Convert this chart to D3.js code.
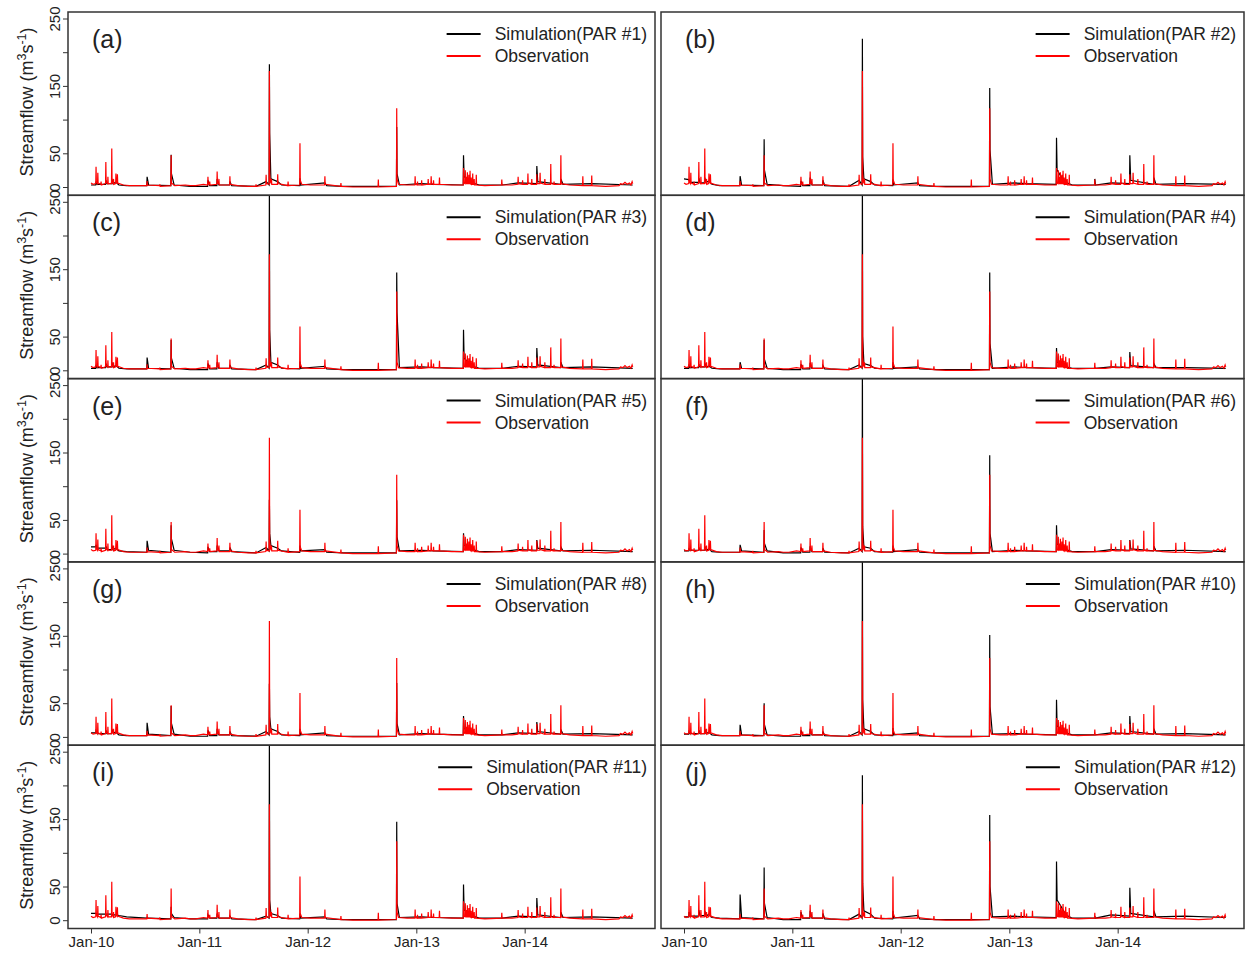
<!DOCTYPE html>
<html>
<head>
<meta charset="utf-8">
<script src="https://cdn.jsdelivr.net/npm/d3@7"></script>
<style>
body { margin: 0; background: #fff; }
text { font-family: Arial, "Liberation Sans", sans-serif; fill: #222; }
</style>
</head>
<body>
<div id="chart"></div>
<script>
const width = 1249;
const height = 953;

const observed = [
    ["2010-01-01",6],["2010-01-08",4],["2010-01-17",5],["2010-01-18",30],["2010-01-19",8],["2010-01-23",5],["2010-01-24",21],
    ["2010-01-25",6],["2010-02-03",4],["2010-02-04",8],["2010-02-05",3],["2010-02-19",5],["2010-02-20",37],["2010-02-21",8],
    ["2010-02-26",5],["2010-02-27",15],["2010-02-28",5],["2010-03-11",5],["2010-03-12",57],["2010-03-13",8],["2010-03-17",5],
    ["2010-03-18",12],["2010-03-19",4],["2010-03-25",5],["2010-03-26",20],["2010-03-27",8],["2010-03-30",6],["2010-03-31",19],
    ["2010-04-01",6],["2010-04-20",3],["2010-05-10",2],["2010-06-10",2],["2010-07-08",2],["2010-07-09",9],["2010-07-10",3],
    ["2010-08-20",2],["2010-08-21",4],["2010-08-22",1],["2010-09-27",2],["2010-09-28",47],["2010-09-29",6],["2010-10-10",2],
    ["2010-11-15",3],["2010-12-01",2],["2010-12-20",2],
    ["2011-01-15",4],["2011-01-29",3],["2011-01-30",15],["2011-01-31",5],["2011-02-04",4],["2011-02-05",8],["2011-02-06",3],
    ["2011-03-01",4],["2011-03-02",23],["2011-03-03",6],["2011-03-07",5],["2011-03-08",12],["2011-03-09",3],["2011-04-13",3],
    ["2011-04-14",16],["2011-04-15",4],["2011-05-10",2],["2011-06-15",1],["2011-07-10",1],["2011-07-11",4],["2011-07-12",1],
    ["2011-08-13",3],["2011-08-14",18],["2011-08-15",5],["2011-08-24",4],["2011-08-25",172],["2011-08-26",20],["2011-08-28",8],
    ["2011-08-31",5],["2011-09-01",12],["2011-09-02",4],["2011-09-21",4],["2011-09-22",19],["2011-09-23",5],["2011-10-26",2],
    ["2011-10-27",8],["2011-10-28",2],["2011-12-05",3],["2011-12-06",65],["2011-12-07",10],["2011-12-12",4],
    ["2012-01-10",3],["2012-02-27",3],["2012-02-28",16],["2012-02-29",4],["2012-04-21",1],["2012-04-22",6],["2012-04-23",1],
    ["2012-06-01",0],["2012-08-25",0],["2012-08-26",11],["2012-08-27",0],["2012-10-26",1],["2012-10-27",117],["2012-10-28",12],
    ["2012-11-02",4],["2012-12-01",3],["2012-12-27",3],["2012-12-28",16],["2012-12-29",4],
    ["2013-01-04",3],["2013-01-05",8],["2013-01-06",3],["2013-01-18",3],["2013-01-19",10],["2013-01-20",3],["2013-02-09",4],
    ["2013-02-10",12],["2013-02-11",4],["2013-02-19",4],["2013-02-20",16],["2013-02-21",5],["2013-02-27",4],["2013-02-28",10],
    ["2013-03-01",4],["2013-03-19",4],["2013-03-20",14],["2013-03-21",4],["2013-05-01",3],["2013-06-08",3],["2013-06-09",28],
    ["2013-06-10",6],["2013-06-14",5],["2013-06-15",25],["2013-06-16",6],["2013-06-17",5],["2013-06-18",15],["2013-06-19",5],
    ["2013-06-21",5],["2013-06-22",22],["2013-06-23",5],["2013-06-26",5],["2013-06-27",18],["2013-06-28",5],["2013-06-30",5],
    ["2013-07-01",24],["2013-07-02",5],["2013-07-04",4],["2013-07-05",14],["2013-07-06",4],["2013-07-09",4],["2013-07-10",20],
    ["2013-07-11",4],["2013-07-14",4],["2013-07-15",12],["2013-07-16",3],["2013-07-21",3],["2013-07-22",18],["2013-07-23",3],
    ["2013-08-20",2],["2013-10-15",3],["2013-10-16",11],["2013-10-17",3],["2013-11-20",3],["2013-12-09",4],["2013-12-10",15],
    ["2013-12-11",5],["2013-12-24",4],["2013-12-25",10],["2013-12-26",4],
    ["2014-01-11",4],["2014-01-12",20],["2014-01-13",6],["2014-01-24",4],["2014-01-25",12],["2014-01-26",4],["2014-02-10",4],
    ["2014-02-11",19],["2014-02-12",5],["2014-02-21",5],["2014-02-22",21],["2014-02-23",6],["2014-03-09",4],["2014-03-10",12],
    ["2014-03-11",4],["2014-03-29",4],["2014-03-30",34],["2014-03-31",5],["2014-04-09",4],["2014-04-10",8],["2014-04-11",4],
    ["2014-05-02",4],["2014-05-03",47],["2014-05-04",5],["2014-06-01",3],["2014-07-15",2],["2014-07-16",16],["2014-07-17",2],
    ["2014-08-14",2],["2014-08-15",17],["2014-08-16",2],["2014-10-01",1],["2014-11-15",2],["2014-11-20",5],["2014-11-28",4],
    ["2014-12-05",7],["2014-12-12",4],["2014-12-20",6],["2014-12-25",3],["2014-12-29",8],["2014-12-31",5]
];

// dates at which the simulated (black) lines were read
const simDates = [
    "2010-01-01","2010-01-17","2010-01-18","2010-01-22","2010-02-19","2010-02-20","2010-02-24","2010-03-11","2010-03-12","2010-03-16",
    "2010-03-26","2010-04-05","2010-05-01","2010-07-08","2010-07-09","2010-07-14","2010-09-27","2010-09-28","2010-09-29","2010-10-08",
    "2010-12-01","2011-01-29","2011-01-30","2011-02-05","2011-03-01","2011-03-02","2011-03-08","2011-04-13","2011-04-14","2011-04-20",
    "2011-07-11","2011-08-14","2011-08-24","2011-08-25","2011-08-26","2011-08-30","2011-09-22","2011-10-05","2011-12-05","2011-12-06",
    "2011-12-08","2012-02-28","2012-03-05","2012-05-01","2012-10-26","2012-10-27","2012-10-28","2012-11-05","2013-01-19","2013-03-01",
    "2013-06-08","2013-06-09","2013-06-11","2013-06-25","2013-07-10","2013-08-01","2013-10-15","2013-10-16","2013-10-18","2013-12-10",
    "2014-02-10","2014-02-11","2014-02-14","2014-05-02","2014-05-03","2014-05-10","2014-08-15","2014-12-31"
];

const simPar1  = [3,3,8,4,4,10,5,5,12,5, 7,3,2,2,15,3,2,48,20,3, 1,1,10,2,2,12,3,3,8,2, 1,8,3,182,80,12,8,3,2,13, 3,6,2,1,1,89,20,3,5,4, 3,47,15,12,6,3,3,4,3,6, 5,31,8,4,12,4,5,3];
const simPar2  = [12,11,10,7,7,13,6,6,14,7, 9,4,2,2,16,3,2,71,25,4, 2,1,9,2,2,14,3,3,10,2, 1,10,3,220,45,12,8,3,2,11, 3,6,2,1,1,147,55,4,6,5, 4,73,25,15,7,3,3,12,3,6, 5,47,10,4,14,4,5,4];
const simPar3  = [3,3,8,4,4,10,5,5,12,5, 7,3,2,2,19,3,2,45,18,3, 1,1,10,2,2,12,3,3,8,2, 1,8,3,290,60,12,8,3,2,13, 3,6,2,1,1,145,86,4,5,4, 3,60,18,12,6,3,3,4,3,6, 5,33,8,4,12,4,5,3];
const simPar4  = [3,3,7,4,4,9,5,5,11,5, 6,3,2,2,12,3,2,45,16,3, 1,1,9,2,2,11,3,3,7,2, 1,8,3,290,50,10,7,3,2,12, 3,5,2,1,1,145,40,3,5,4, 3,33,12,10,5,3,3,4,3,5, 4,27,7,4,10,4,4,3];
const simPar5  = [10,10,13,8,8,11,6,6,12,6, 8,4,3,2,19,5,2,42,22,5, 2,1,10,3,3,12,4,4,9,3, 1,9,4,80,30,12,8,4,2,12, 4,6,2,1,1,79,25,4,5,4, 3,30,12,11,6,3,3,4,3,6, 5,20,8,4,10,4,5,3];
const simPar6  = [4,4,7,5,5,9,5,5,11,5, 7,3,2,2,13,4,2,35,15,4, 1,1,9,2,2,11,3,3,8,2, 1,8,3,290,40,10,8,3,2,12, 3,6,2,1,1,146,30,3,5,4, 3,42,14,11,6,3,3,4,3,6, 5,20,7,4,11,4,5,3];
const simPar8  = [6,6,9,5,5,10,5,5,12,6, 7,3,2,2,21,4,2,46,20,4, 1,1,10,2,2,12,3,3,8,2, 1,8,3,79,30,12,8,3,2,12, 3,6,2,1,1,80,20,3,5,4, 3,31,12,11,6,3,3,4,3,6, 5,22,8,4,11,4,5,3];
const simPar10 = [4,4,8,5,5,10,5,5,12,5, 7,3,2,2,18,3,2,50,18,3, 1,1,10,2,2,12,3,3,8,2, 1,8,3,290,55,12,8,3,2,13, 3,6,2,1,1,151,45,4,5,4, 3,55,16,12,6,3,3,4,3,6, 5,31,8,4,12,4,5,3];
const simPar11 = [10,10,10,9,9,9,9,9,9,8, 8,7,5,3,4,3,2,20,10,4, 2,2,8,3,3,10,3,3,6,2, 1,6,3,290,30,10,7,3,2,10, 3,5,2,1,1,146,25,4,5,4, 3,53,15,12,6,3,3,4,3,6, 5,33,8,4,12,4,5,3];
const simPar12 = [5,5,12,6,6,15,7,7,14,6, 9,4,3,2,38,4,2,78,25,4, 1,1,12,3,3,14,3,3,10,2, 1,9,3,215,55,14,9,3,2,14, 3,7,2,1,1,156,50,5,6,5, 4,87,30,20,8,3,3,6,3,8, 6,48,10,5,14,5,6,4];

const panelLabels = ["(a)","(b)","(c)","(d)","(e)","(f)","(g)","(h)","(i)","(j)"];
const parNames = ["#1","#2","#3","#4","#5","#6","#8","#10","#11","#12"];
const simSeries = [simPar1, simPar2, simPar3, simPar4, simPar5, simPar6, simPar8, simPar10, simPar11, simPar12];

const yTicks = [0, 50, 100, 150, 200, 250];
const yLabelled = [0, 50, 150, 250];
const xTickYears = ["2010-01-01","2011-01-01","2012-01-01","2013-01-01","2014-01-01"];

const parse = d3.timeParse("%Y-%m-%d");
const obsData = observed.map(d => ({date: parse(d[0]), v: d[1]}));

// layout
const colLeft = [68, 661];
const colRight = [655, 1244];
const top0 = 12;
const rowH = 183.3;

const svg = d3.select("#chart")
    .append("svg")
    .attr("width", width)
    .attr("height", height);

svg.append("rect").attr("width", width).attr("height", height).attr("fill", "#fff");

simSeries.forEach((series, i) => {
    const col = i % 2;
    const row = Math.floor(i / 2);
    const x0 = colLeft[col], x1 = colRight[col];
    const top = top0 + row * rowH;
    const bottom = top + rowH;

    const x = d3.scaleTime()
        .domain([parse("2010-01-01"), parse("2015-01-01")])
        .range([x0 + 23, x0 + 565]);
    const y = d3.scaleLinear()
        .domain([0, 250])
        .range([top + 175, top + 6.5]);

    const g = svg.append("g").attr("class", "panel");

    const clipId = "clip" + i;
    g.append("clipPath").attr("id", clipId)
        .append("rect")
        .attr("x", x0).attr("y", top)
        .attr("width", x1 - x0).attr("height", rowH);

    const line = d3.line()
        .x(d => x(d.date))
        .y(d => y(d.v));

    const simData = simDates.map((dt, k) => ({date: parse(dt), v: series[k]}));

    const plot = g.append("g").attr("clip-path", `url(#${clipId})`);
    plot.append("path")
        .datum(simData)
        .attr("d", line)
        .attr("fill", "none")
        .attr("stroke", "#000")
        .attr("stroke-width", 1.2);
    plot.append("path")
        .datum(obsData)
        .attr("d", line)
        .attr("fill", "none")
        .attr("stroke", "#ff0000")
        .attr("stroke-width", 1.2);

    // frame
    g.append("rect")
        .attr("x", x0).attr("y", top)
        .attr("width", x1 - x0).attr("height", rowH)
        .attr("fill", "none")
        .attr("stroke", "#333")
        .attr("stroke-width", 1.5);

    // panel tag
    g.append("text")
        .attr("x", x0 + 24)
        .attr("y", top + 36)
        .attr("font-size", 25)
        .text(panelLabels[i]);

    // legend, right aligned
    const simText = g.append("text")
        .attr("y", top + 28)
        .attr("font-size", 17.5)
        .text("Simulation(PAR " + parNames[i] + ")");
    const tw = simText.node().getComputedTextLength();
    const tx = x1 - 8 - tw;
    simText.attr("x", tx);
    g.append("text")
        .attr("x", tx)
        .attr("y", top + 50)
        .attr("font-size", 17.5)
        .text("Observation");
    g.append("line")
        .attr("x1", tx - 48).attr("x2", tx - 14)
        .attr("y1", top + 22).attr("y2", top + 22)
        .attr("stroke", "#000").attr("stroke-width", 2);
    g.append("line")
        .attr("x1", tx - 48).attr("x2", tx - 14)
        .attr("y1", top + 44).attr("y2", top + 44)
        .attr("stroke", "#ff0000").attr("stroke-width", 2);

    if (col === 0) {
        const yAxis = g.append("g")
            .attr("transform", `translate(${x0},0)`)
            .call(d3.axisLeft(y)
                .tickValues(yTicks)
                .tickSize(5)
                .tickFormat(d => yLabelled.includes(d) ? d : ""));
        yAxis.select(".domain").remove();
        yAxis.selectAll(".tick line").attr("stroke", "#333");
        yAxis.selectAll(".tick text")
            .attr("transform", "rotate(-90)")
            .attr("x", 0)
            .attr("y", -8)
            .attr("dy", 0)
            .attr("text-anchor", "middle")
            .attr("font-size", 15)
            .attr("fill", "#222");

        const title = g.append("text")
            .attr("transform", `translate(33,${top + 90}) rotate(-90)`)
            .attr("text-anchor", "middle")
            .attr("font-size", 18);
        title.append("tspan").text("Streamflow (m");
        title.append("tspan").attr("dy", -7).attr("font-size", 12.5).text("3");
        title.append("tspan").attr("dy", 7).text("s");
        title.append("tspan").attr("dy", -7).attr("font-size", 12.5).text("-1");
        title.append("tspan").attr("dy", 7).text(")");
    }

    if (row === 4) {
        const xAxis = g.append("g")
            .attr("transform", `translate(0,${bottom})`)
            .call(d3.axisBottom(x)
                .tickValues(xTickYears.map(parse))
                .tickSize(5)
                .tickFormat(d3.timeFormat("Jan-%y")));
        xAxis.select(".domain").remove();
        xAxis.selectAll(".tick line").attr("stroke", "#333");
        xAxis.selectAll(".tick text")
            .attr("font-size", 15)
            .attr("fill", "#222");
    }
});
</script>
</body>
</html>
